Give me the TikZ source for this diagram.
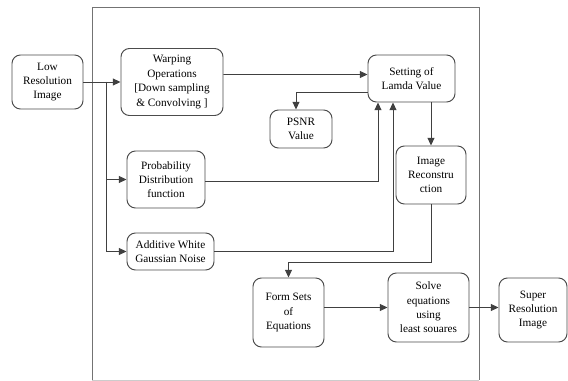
\documentclass[tikz,border=0pt]{standalone}
\usepackage{fontspec}
\setmainfont{Liberation Serif}
\usepackage{tikz}
\usetikzlibrary{
  arrows.meta,
  positioning,
  calc
}
\tikzset{
  procbox/.style={draw=black!70, line width=0.7pt, rounded corners=6pt,
    fill=white, align=center, inner sep=1pt,
    font=\fontsize{8}{10.2}\selectfont},
  arr/.style={-{Triangle[length=5.5pt,width=5pt]}, line width=0.6pt, draw=black!75},
  line/.style={line width=0.6pt, draw=black!75},
  framebox/.style={draw=black!55, line width=0.7pt},
}

\begin{document}
\begin{tikzpicture}[x=0.025cm, y=-0.025cm]
  \useasboundingbox (0,0) rectangle (568,381);

  % Outer frame
  \draw[framebox] (92,380) -- (92,7) -- (479,7) -- (479,380);
  \draw[draw=black!20, line width=0.5pt] (92,380) -- (479,380);

  % Input and first stage
  \node[procbox, minimum width=71*0.025cm, minimum height=54*0.025cm] (lri)
    at (47.5,82) {Low\\Resolution\\Image};
  \node[procbox, minimum width=102*0.025cm, minimum height=67*0.025cm] (warp)
    at (172,82) {Warping\\Operations\\{}[Down sampling\\\& Convolving ]};
  \node[procbox, minimum width=78*0.025cm, minimum height=57*0.025cm] (prob)
    at (166,179.5) {Probability\\Distribution\\function};
  \node[procbox, minimum width=87*0.025cm, minimum height=37*0.025cm] (awgn)
    at (170.5,251.5) {Additive White\\Gaussian Noise};

  % Lamda loop
  \node[procbox, minimum width=87*0.025cm, minimum height=47*0.025cm] (lamda)
    at (411.5,78.5) {Setting of\\Lamda Value};
  \node[procbox, minimum width=62*0.025cm, minimum height=38*0.025cm] (psnr)
    at (301,129) {PSNR\\Value};
  \node[procbox, minimum width=70*0.025cm, minimum height=58*0.025cm] (recon)
    at (431,175) {Image\\Reconstru\\ction};

  % Bottom row
  \node[procbox, minimum width=71*0.025cm, minimum height=69*0.025cm] (form)
    at (288.5,312.5) {Form Sets\\of\\Equations};
  \node[procbox, minimum width=81*0.025cm, minimum height=69*0.025cm] (solve)
    at (428.5,307.5) {Solve\\equations\\using\\least souares};
  \node[procbox, minimum width=68*0.025cm, minimum height=64*0.025cm] (super)
    at (533,310) {Super\\Resolution\\Image};

  % Arrows
  \coordinate (split) at (106,82);
  \draw[arr] (lri.east) -- (warp.west);
  \draw[arr] (split) |- (prob.west);
  \draw[arr] (split) |- (awgn.west);
  \draw[arr] ($(warp.east)+(0,-7.5)$) -- ($(lamda.west)+(0,-4)$);
  \draw[arr] ($(lamda.west)+(0,13.5)$) -| ($(psnr.north)+(-5,0)$);
  \draw[arr] ($(prob.east)+(0,2)$) -| ($(lamda.south)+(-33.5,0)$);
  \draw[arr] (awgn.east) -| ($(lamda.south)+(-18.5,0)$);
  \draw[arr] (recon.north |- lamda.south) -- (recon.north);
  \draw[arr] (recon.south) -- ++(0,58) -| (form.north);
  \draw[arr] ($(form.east)+(0,-5)$) -- (solve.west);
  \draw[arr] (solve.east) -- (solve.east -| super.west);
\end{tikzpicture}
\end{document}
